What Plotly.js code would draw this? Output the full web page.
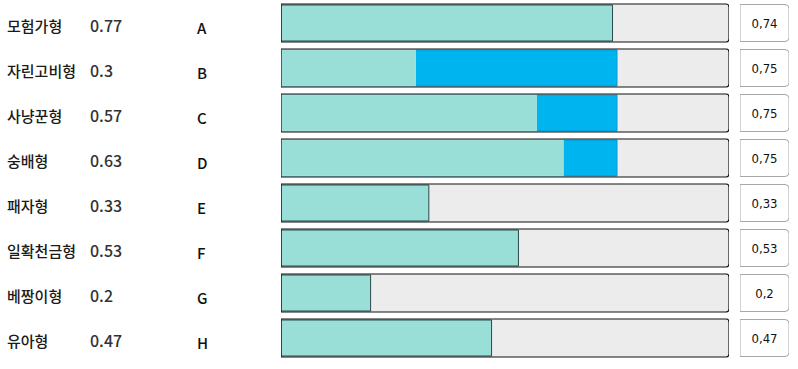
<!DOCTYPE html>
<html>
<head>
<meta charset="utf-8">
<script src="https://cdn.plot.ly/plotly-3.0.1.min.js"></script>
<style>html,body{margin:0;padding:0;background:#fff;}#chart{width:798px;height:369px;}</style>
</head>
<body>
<div id="chart"></div>
<script>
const names = ['모험가형','자린고비형','사냥꾼형','숭배형','패자형','일확천금형','베짱이형','유아형'];
const scores = ['0.77','0.3','0.57','0.63','0.33','0.53','0.2','0.47'];
const letters = ['A','B','C','D','E','F','G','H'];
const fillValues = [0.74,0.3,0.57,0.63,0.33,0.53,0.2,0.47];
const blueValues = [null,0.75,0.75,0.75,null,null,null,null];
const boxLabels = ['0,74','0,75','0,75','0,75','0,33','0,53','0,2','0,47'];
const fullValue = [1,1,1,1,1,1,1,1];

const idx = names.map((_, i) => i);
const W = 798, H = 369, pitch = 45, firstCenter = 23;
const yTop = -firstCenter / pitch;
const yBot = yTop + H / pitch;
const bw = 38 / pitch;

const tealLine = blueValues.map(v => v == null ? '#2b4a4a' : '#a8e4dc');

const traces = [
  {type:'bar', orientation:'h', x: fullValue, y: idx, width: bw,
   marker:{color:'#ececec', line:{width:0}, cornerradius:3}, hoverinfo:'skip'},
  {type:'bar', orientation:'h', x: blueValues, y: idx, width: bw - 2/pitch,
   marker:{color:'#00b4f0', line:{width:1, color:'#0898d0'}}, hoverinfo:'skip'},
  {type:'bar', orientation:'h', x: fillValues, y: idx, width: bw - 2/pitch,
   marker:{color:'#9adfd7', line:{width:1, color: tealLine}}, hoverinfo:'skip'},
  {type:'bar', orientation:'h', x: fullValue, y: idx, width: bw,
   marker:{color:'rgba(0,0,0,0)', line:{width:1.2, color:'#111'}, cornerradius:3}, hoverinfo:'skip'},
  {type:'bar', orientation:'h', x: fullValue, y: idx, width: 37/pitch, xaxis:'x2',
   marker:{color:'#fff', line:{width:1, color:'#a8a8a8'}, cornerradius:4},
   text: boxLabels, textposition:'inside', insidetextanchor:'middle', constraintext:'none',
   textfont:{family:'"Liberation Sans Narrow", "DejaVu Sans Condensed", sans-serif', size:13, color:'#111'},
   hoverinfo:'skip'}
];

const annotations = [];
idx.forEach(i => {
  annotations.push({xref:'paper', yref:'y', x: 5/W, y: i, yshift:-2, xanchor:'left', yanchor:'middle',
    text: names[i], showarrow:false,
    font:{family:'"Noto Sans CJK KR", sans-serif', size:15, weight:500, color:'#1a1a1a'}});
  annotations.push({xref:'paper', yref:'y', x: 88/W, y: i, yshift:-2, xanchor:'left', yanchor:'middle',
    text: scores[i], showarrow:false,
    font:{family:'"Noto Sans CJK KR", sans-serif', size:16, weight:500, color:'#333'}});
  annotations.push({xref:'paper', yref:'y', x: 195/W, y: i, yshift:-4, xanchor:'left', yanchor:'middle',
    text: letters[i], showarrow:false,
    font:{family:'"Noto Sans CJK KR", sans-serif', size:15, weight:500, color:'#111'}});
});

const layout = {
  width: W, height: H,
  margin:{l:0, r:0, t:0, b:0, pad:0},
  paper_bgcolor:'#fff', plot_bgcolor:'rgba(0,0,0,0)',
  barmode:'overlay', showlegend:false,
  xaxis:{domain:[281/W, 729/W], range:[0,1], visible:false, fixedrange:true},
  xaxis2:{domain:[740/W, 789/W], range:[0,1], visible:false, fixedrange:true, anchor:'y'},
  yaxis:{range:[yBot, yTop], visible:false, fixedrange:true},
  annotations: annotations
};

Plotly.newPlot('chart', traces, layout, {displayModeBar:false, staticPlot:true});
</script>
</body>
</html>
